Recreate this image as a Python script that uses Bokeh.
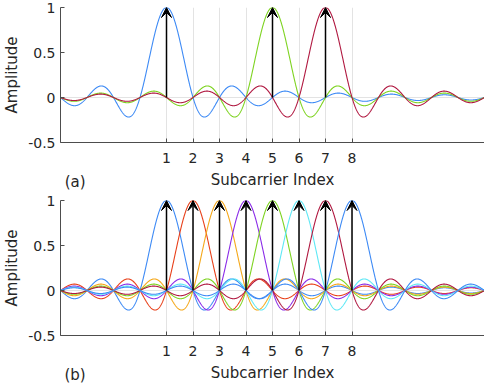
import numpy as np
from bokeh.plotting import figure
from bokeh.models import (ColumnDataSource, Range1d, FixedTicker, Arrow, VeeHead, LinearAxis)
from bokeh.layouts import column
from bokeh.embed import file_html
from bokeh.resources import INLINE

# ---- data ----
x_min, x_max = -3, 13
y_min, y_max = -0.5, 1
top_carriers = [1, 5, 7]
top_colors = ["#3d8af5", "#7ed321", "#b01840"]
bottom_carriers = [1, 2, 3, 4, 5, 6, 7, 8]
bottom_colors = ["#3d8af5", "#e8401a", "#f5a81a", "#8a2be8",
                 "#7ed321", "#5ee8f5", "#b01840", "#3d8af5"]
amplitude = 1.0
xtick_values = [1, 2, 3, 4, 5, 6, 7, 8]
ytick_values = [-0.5, 0, 0.5, 1]
ytick_labels = ["-0.5", "0", "0.5", "1"]
panel_labels = ["(a)", "(b)"]
panel_label_x = -2.45
xlabel = "Subcarrier Index"
ylabel = "Amplitude"

FONT = "DejaVu Sans"
TXT = "#262626"


def make_panel(carriers, colors, tag):
    p = figure(width=484, frame_height=135, output_backend="svg",
               toolbar_location=None, x_range=Range1d(x_min, x_max),
               y_range=Range1d(y_min, y_max), min_border_top=7,
               min_border_right=0, min_border_left=0, min_border_bottom=0)
    p.outline_line_color = None
    p.background_fill_color = "white"
    xs = np.linspace(x_min, x_max, 1601)
    for k, c in zip(carriers, colors):
        p.line(xs, amplitude * np.sinc(xs - k), line_color=c, line_width=1.1)
    src = ColumnDataSource(dict(x=carriers, y0=[0] * len(carriers),
                                y1=[amplitude] * len(carriers)))
    p.add_layout(Arrow(end=VeeHead(size=10, fill_color="black", line_color="black"),
                       source=src, x_start="x", y_start="y0", x_end="x", y_end="y1",
                       line_color="black", line_width=1.5))
    # axes
    p.xaxis.ticker = FixedTicker(ticks=xtick_values)
    p.yaxis.ticker = FixedTicker(ticks=ytick_values)
    p.yaxis.major_label_overrides = {v: s for v, s in zip(ytick_values, ytick_labels)}
    p.xaxis.axis_label = xlabel
    p.yaxis.axis_label = ylabel
    for ax in (p.xaxis, p.yaxis):
        ax.axis_line_color = "#4d4d4d"
        ax.major_tick_line_color = "#4d4d4d"
        ax.major_tick_in = 4
        ax.major_tick_out = 0
        ax.minor_tick_line_color = None
        ax.major_label_text_font = FONT
        ax.major_label_text_font_size = "14px"
        ax.major_label_text_color = TXT
        ax.axis_label_text_font = FONT
        ax.axis_label_text_font_size = "15px"
        ax.axis_label_text_font_style = "normal"
        ax.axis_label_text_color = TXT
    p.xaxis.major_label_standoff = 10
    p.xaxis.axis_label_standoff = 5
    p.yaxis.major_label_standoff = 5
    p.yaxis.axis_label_standoff = 4
    p.xgrid.ticker = FixedTicker(ticks=xtick_values)
    p.ygrid.ticker = FixedTicker(ticks=[0, 1])
    p.xgrid.grid_line_color = "#e3e3e3"
    p.ygrid.grid_line_color = "#e3e3e3"
    # panel tag "(a)"/"(b)" as a tick label of an extra, invisible axis
    tag_axis = LinearAxis(ticker=FixedTicker(ticks=[panel_label_x]),
                          major_label_overrides={panel_label_x: tag},
                          axis_line_color=None, major_tick_line_color=None,
                          minor_tick_line_color=None, major_tick_in=0, major_tick_out=0,
                          major_label_standoff=-19,
                          major_label_text_font=FONT, major_label_text_font_size="15px",
                          major_label_text_color=TXT)
    p.add_layout(tag_axis, "below")
    return p


p1 = make_panel(top_carriers, top_colors, panel_labels[0])
p2 = make_panel(bottom_carriers, bottom_colors, panel_labels[1])
p = column(p1, p2, spacing=0)

open("out.html", "w").write(file_html(p, INLINE))
